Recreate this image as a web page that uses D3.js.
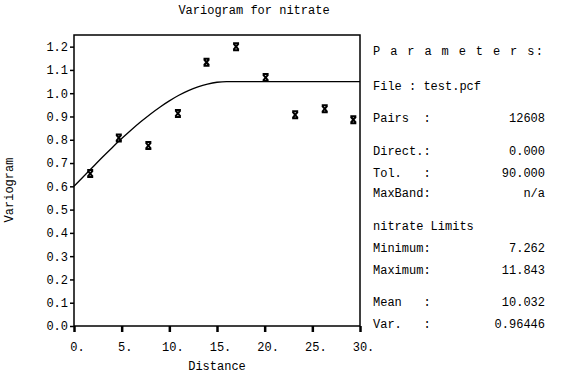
<!DOCTYPE html>
<html><head><meta charset="utf-8">
<script src="https://cdn.jsdelivr.net/npm/d3@7"></script>
<style>
html,body{margin:0;padding:0;background:#fff;}
</style></head>
<body><svg id="c" width="561" height="380"></svg>
<script>
// Experimental variogram points (lag distance, semivariance)
const lagDist = [1.7, 4.7, 7.8, 10.9, 13.9, 17.0, 20.1, 23.2, 26.3, 29.3];
const gammaVals = [0.655, 0.808, 0.775, 0.913, 1.133, 1.200, 1.067, 0.907, 0.933, 0.886];
// Fitted model curve
const modelDist = [0, 1, 2, 3, 4, 5, 6, 7, 8, 9, 10, 11, 12, 13, 14, 15, 16, 30];
const modelVals = [0.600, 0.642, 0.684, 0.726, 0.766, 0.805, 0.842, 0.877, 0.910, 0.940, 0.967, 0.991, 1.011, 1.027, 1.039, 1.047, 1.050, 1.050];
const xTicks = [0, 5, 10, 15, 20, 25, 30];
const xTickLabels = ["0.", "5.", "10.", "15.", "20.", "25.", "30."];
const yTicks = [0, 0.1, 0.2, 0.3, 0.4, 0.5, 0.6, 0.7, 0.8, 0.9, 1.0, 1.1, 1.2];
const paramLabels = ["File : test.pcf", "Pairs  :", "Direct.:", "Tol.   :", "MaxBand:", "nitrate Limits", "Minimum:", "Maximum:", "Mean   :", "Var.   :"];
const paramValues = ["", "12608", "0.000", "90.000", "n/a", "", "7.262", "11.843", "10.032", "0.96446"];

const FF = "'Liberation Mono', 'DejaVu Sans Mono', monospace";
const svg = d3.select("#c").style("font-family", FF);
const L = 74, R = 360, T = 35, B = 326;
const x = d3.scaleLinear().domain([0, 30]).range([L, R]);
const y = d3.scaleLinear().domain([0, 1.25]).range([B, T]);
const fs = "12px";
const styleText = s => s.style("font-family", FF).style("font-size", fs).style("white-space", "pre").attr("fill", "#000");

// frame
svg.append("rect").attr("x", L).attr("y", T).attr("width", R - L).attr("height", B - T)
  .attr("fill", "none").attr("stroke", "#000").attr("stroke-width", 1.5);

// y axis
const ya = svg.append("g").attr("transform", `translate(${L},0)`)
  .call(d3.axisLeft(y).tickValues(yTicks).tickFormat(d3.format(".1f")).tickSize(4).tickPadding(2));
ya.attr("font-family", null);
ya.select(".domain").remove();
ya.selectAll("line").attr("stroke-width", 1.5);
styleText(ya.selectAll("text"));

// x axis
const xa = svg.append("g").attr("transform", `translate(0,${B})`)
  .call(d3.axisBottom(x).tickValues(xTicks).tickFormat((d, i) => xTickLabels[i]).tickSize(6).tickPadding(10));
xa.attr("font-family", null);
xa.select(".domain").remove();
xa.selectAll("line").attr("stroke-width", 2.5);
styleText(xa.selectAll("text")).attr("dx", 3);

// model curve
svg.append("path").datum(modelDist.map((d, i) => [d, modelVals[i]]))
  .attr("fill", "none").attr("stroke", "#000").attr("stroke-width", 1.3)
  .attr("d", d3.line().x(d => x(d[0])).y(d => y(d[1])).curve(d3.curveMonotoneX));

// markers
const mk = "M-3,-3.5L3,-3.5M-3,3.5L3,3.5M-2.5,-3L2.5,3M2.5,-3L-2.5,3";
svg.selectAll(".pt").data(lagDist).join("path").attr("class", "pt")
  .attr("transform", (d, i) => `translate(${x(d)},${y(gammaVals[i])})`)
  .attr("d", mk).attr("stroke", "#000").attr("stroke-width", 2).attr("fill", "none");

// titles
styleText(svg.append("text").attr("x", 254).attr("y", 14).attr("text-anchor", "middle")).text("Variogram for nitrate");
styleText(svg.append("text").attr("x", (L + R) / 2).attr("y", 370).attr("text-anchor", "middle")).text("Distance");
styleText(svg.append("text").attr("transform", "translate(13,190) rotate(-90)").attr("text-anchor", "middle")).text("Variogram");

// parameters panel
const px = 373, pr = 545;
styleText(svg.append("text").attr("x", px).attr("y", 55).attr("textLength", 170)).text("P a r a m e t e r s:");
const rowsY = [90, 122, 155, 177, 197, 230, 252, 274, 306, 328];
paramLabels.forEach((t, i) => {
  styleText(svg.append("text").attr("x", px).attr("y", rowsY[i])).text(t);
  if (paramValues[i]) styleText(svg.append("text").attr("x", pr).attr("y", rowsY[i]).attr("text-anchor", "end")).text(paramValues[i]);
});
</script></body></html>
